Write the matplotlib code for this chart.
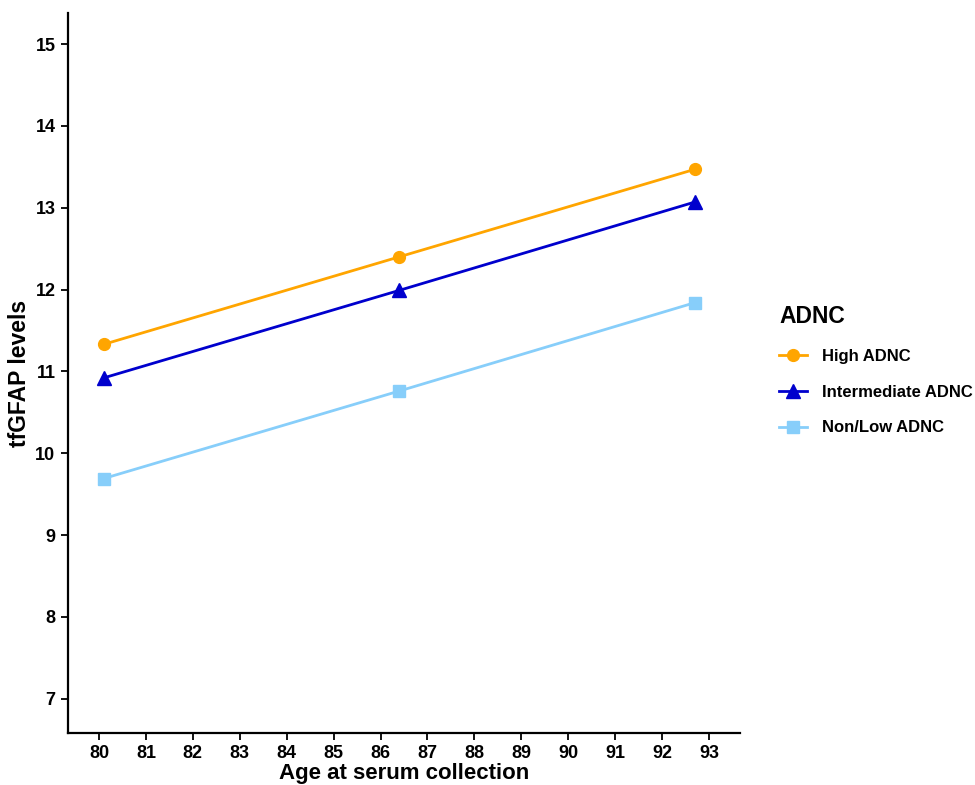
import matplotlib
matplotlib.use("Agg")
import matplotlib.pyplot as plt

plt.rcParams['font.family'] = ['Liberation Sans', 'DejaVu Sans']
plt.rcParams['font.weight'] = 'bold'

# age points (mean - SD, mean, mean + SD)
ages = [80.1, 86.4, 92.7]
high_adnc = [11.33, 12.40, 13.47]
intermediate_adnc = [10.92, 11.99, 13.07]
nonlow_adnc = [9.69, 10.76, 11.84]

series_names = ["High ADNC", "Intermediate ADNC", "Non/Low ADNC"]
x_ticks = list(range(80, 94))
y_ticks = list(range(7, 16))

fig = plt.figure(figsize=(9.75, 7.85), dpi=100)
ax = fig.add_axes([68 / 975, 1 - 733 / 785, (740 - 68) / 975, (733 - 13) / 785])

ax.plot(ages, high_adnc, color="#FFA500", lw=2, marker="o", ms=8.5, label=series_names[0])
ax.plot(ages, intermediate_adnc, color="#0000CD", lw=2, marker="^", ms=10, label=series_names[1])
ax.plot(ages, nonlow_adnc, color="#87CEFA", lw=2, marker="s", ms=8, label=series_names[2])

ax.set_xlim(79.34, 93.66)
ax.set_ylim(6.58, 15.38)
ax.set_xticks(x_ticks)
ax.set_yticks(y_ticks)

for side in ["top", "right"]:
    ax.spines[side].set_visible(False)
for side in ["left", "bottom"]:
    ax.spines[side].set_linewidth(1.6)
ax.tick_params(length=5, width=1.3, labelsize=13, pad=4)
for lab in ax.get_xticklabels() + ax.get_yticklabels():
    lab.set_fontweight("bold")

ax.set_xlabel("Age at serum collection", fontsize=16, fontweight="bold", labelpad=0)
ax.set_ylabel("tfGFAP levels", fontsize=16.5, fontweight="bold", labelpad=3)

leg = fig.legend(loc="upper left", bbox_to_anchor=(764 / 975, 1 - 290 / 785), frameon=False,
                 title="ADNC", alignment="left", fontsize=12, handlelength=1.7,
                 labelspacing=1.25, handletextpad=0.9)
leg.get_title().set_fontsize(16.5)
leg.get_title().set_fontweight("bold")
for t in leg.get_texts():
    t.set_fontweight("bold")

fig.savefig("out.png", dpi=100)
